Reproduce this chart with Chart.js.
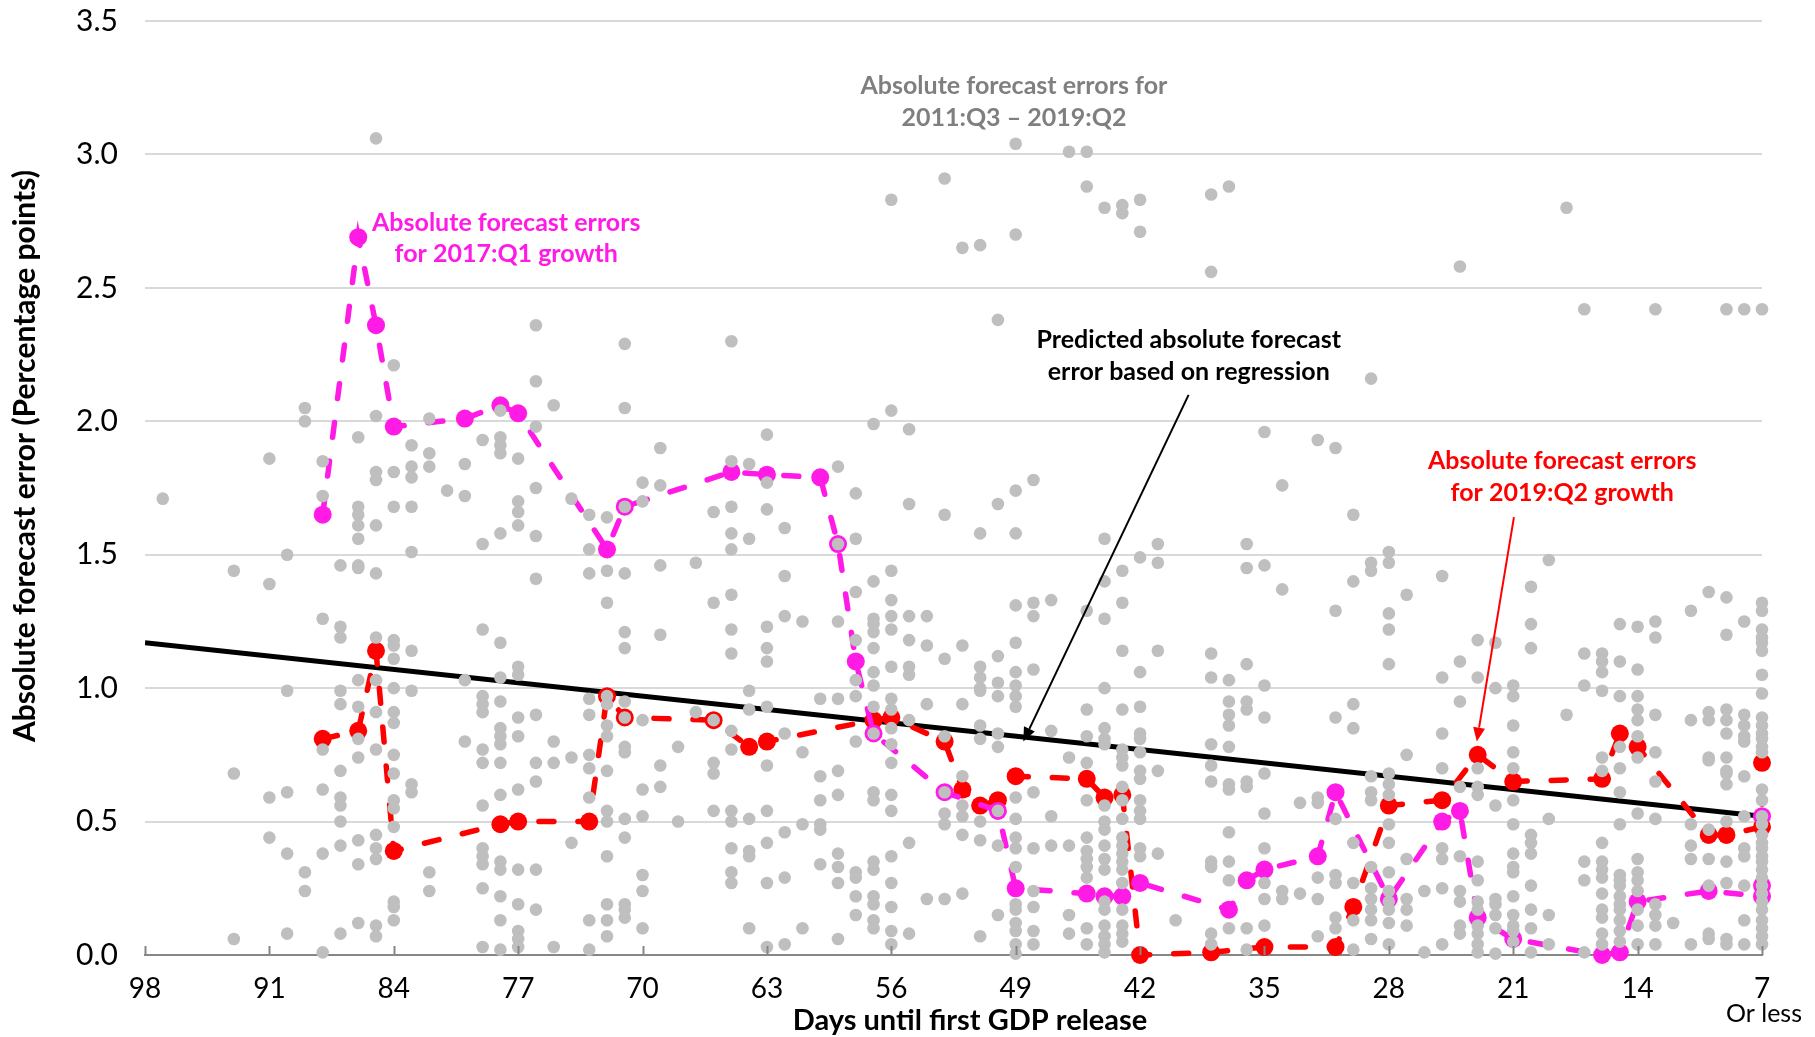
<!DOCTYPE html>
<html>
<head>
<meta charset="utf-8">
<script src="https://cdn.jsdelivr.net/npm/chart.js@4.4.1/dist/chart.umd.min.js"></script>
<style>
  html, body { margin: 0; padding: 0; background: #fff; }
  #wrap { width: 1815px; height: 1037px; position: relative; }
</style>
</head>
<body>
<div id="wrap"><canvas id="errChart"></canvas></div>
<script>
const xTicks = [98, 91, 84, 77, 70, 63, 56, 49, 42, 35, 28, 21, 14, 7];
const yTicks = [0, 0.5, 1, 1.5, 2, 2.5, 3, 3.5];

// absolute forecast errors 2011:Q3 - 2019:Q2, grouped by days until release
const grayByDay = [
  [97, [1.71]],
  [93, [1.44, 0.68, 0.06]],
  [91, [1.86, 1.39, 0.59, 0.44]],
  [90, [1.50, 0.99, 0.61, 0.38, 0.08]],
  [89, [2.05, 2.00, 0.31, 0.24]],
  [88, [1.85, 1.72, 1.26, 0.77, 0.62, 0.38, 0.01]],
  [87, [1.46, 1.23, 1.19, 0.99, 0.94, 0.69, 0.59, 0.56, 0.50, 0.41, 0.08]],
  [86, [1.94, 1.68, 1.65, 1.61, 1.56, 1.46, 1.45, 1.03, 0.93, 0.81, 0.74, 0.43, 0.34, 0.12]],
  [85, [3.06, 2.02, 1.81, 1.78, 1.61, 1.43, 1.19, 1.03, 0.91, 0.77, 0.45, 0.40, 0.36, 0.11, 0.07]],
  [84, [2.21, 1.81, 1.68, 1.18, 1.16, 1.11, 1.00, 0.91, 0.87, 0.75, 0.68, 0.58, 0.55, 0.48, 0.20, 0.18, 0.13]],
  [83, [1.91, 1.83, 1.79, 1.68, 1.51, 1.14, 0.99, 0.64, 0.61]],
  [82, [2.01, 1.88, 1.83, 0.31, 0.24]],
  [81, [1.74]],
  [80, [1.84, 1.72, 1.03, 0.80]],
  [79, [1.93, 1.54, 1.22, 0.97, 0.94, 0.91, 0.77, 0.72, 0.56, 0.40, 0.37, 0.34, 0.25, 0.03]],
  [78, [2.04, 1.94, 1.91, 1.88, 1.58, 1.17, 1.04, 0.95, 0.85, 0.82, 0.79, 0.72, 0.60, 0.35, 0.32, 0.22, 0.13, 0.02]],
  [77, [1.86, 1.70, 1.66, 1.61, 1.08, 1.05, 0.89, 0.82, 0.62, 0.32, 0.19, 0.09, 0.06, 0.03]],
  [76, [2.36, 2.15, 1.98, 1.75, 1.57, 1.41, 0.90, 0.72, 0.65, 0.32, 0.17]],
  [75, [2.06, 0.80, 0.72, 0.03]],
  [74, [1.71, 0.74, 0.42]],
  [73, [1.65, 1.52, 1.43, 0.96, 0.90, 0.75, 0.70, 0.59, 0.13, 0.02]],
  [72, [1.64, 1.44, 1.32, 0.97, 0.94, 0.86, 0.82, 0.69, 0.54, 0.50, 0.37, 0.19, 0.13, 0.07]],
  [71, [2.29, 2.05, 1.68, 1.43, 1.21, 1.15, 0.95, 0.89, 0.78, 0.76, 0.51, 0.44, 0.19, 0.17, 0.14]],
  [70, [1.77, 1.70, 0.88, 0.62, 0.52, 0.30, 0.24, 0.10]],
  [69, [1.90, 1.76, 1.46, 1.20, 0.71, 0.63]],
  [68, [0.78, 0.50]],
  [67, [1.47, 0.91]],
  [66, [1.66, 1.32, 0.88, 0.72, 0.68, 0.54]],
  [65, [2.30, 1.85, 1.68, 1.58, 1.52, 1.35, 1.22, 1.13, 0.84, 0.77, 0.54, 0.50, 0.40, 0.31, 0.27]],
  [64, [1.84, 1.56, 0.99, 0.92, 0.51, 0.39, 0.37, 0.10]],
  [63, [1.95, 1.77, 1.67, 1.23, 1.15, 1.10, 0.93, 0.71, 0.54, 0.42, 0.27, 0.03]],
  [62, [1.60, 1.42, 1.27, 0.83, 0.46, 0.29, 0.04]],
  [61, [1.25, 0.76, 0.49, 0.10]],
  [60, [0.96, 0.67, 0.58, 0.49, 0.47, 0.34]],
  [59, [1.83, 1.54, 1.25, 0.96, 0.69, 0.60, 0.38, 0.33, 0.27, 0.06]],
  [58, [1.73, 1.56, 1.36, 1.18, 1.03, 0.97, 0.80, 0.31, 0.29, 0.22, 0.15]],
  [57, [1.99, 1.40, 1.26, 1.24, 1.21, 1.15, 1.06, 1.01, 0.93, 0.83, 0.61, 0.58, 0.35, 0.32, 0.22, 0.19, 0.13, 0.10]],
  [56, [2.83, 2.04, 1.44, 1.33, 1.27, 1.22, 1.08, 0.96, 0.92, 0.85, 0.79, 0.72, 0.60, 0.54, 0.37, 0.27, 0.18, 0.09, 0.04]],
  [55, [1.97, 1.69, 1.27, 1.18, 1.08, 1.05, 0.88, 0.42, 0.08]],
  [54, [1.27, 1.16, 0.94, 0.21]],
  [53, [2.91, 1.65, 1.11, 0.82, 0.61, 0.53, 0.49, 0.21]],
  [52, [2.65, 1.16, 0.94, 0.67, 0.56, 0.52, 0.45, 0.23]],
  [51, [2.66, 1.58, 1.08, 1.04, 1.00, 0.99, 0.86, 0.81, 0.50, 0.43, 0.07]],
  [50, [2.38, 1.69, 1.12, 1.02, 0.97, 0.83, 0.78, 0.54, 0.41, 0.15]],
  [49, [3.04, 2.70, 1.74, 1.58, 1.31, 1.17, 1.06, 1.01, 0.97, 0.93, 0.59, 0.51, 0.44, 0.40, 0.33, 0.19, 0.17, 0.12, 0.09, 0.04, 0.005]],
  [48, [1.78, 1.32, 1.27, 1.07, 0.61, 0.40, 0.24, 0.18, 0.09, 0.04]],
  [47, [1.33, 0.84, 0.52, 0.41]],
  [46, [3.01, 0.74, 0.41, 0.15, 0.08]],
  [45, [3.01, 2.88, 1.29, 0.92, 0.82, 0.72, 0.58, 0.44, 0.39, 0.36, 0.33, 0.29, 0.10, 0.04]],
  [44, [2.80, 1.56, 1.40, 1.26, 1.00, 0.85, 0.81, 0.79, 0.56, 0.50, 0.47, 0.41, 0.36, 0.32, 0.20, 0.17, 0.11, 0.07, 0.04, 0.01]],
  [43, [2.81, 2.78, 1.44, 1.32, 1.14, 0.92, 0.77, 0.74, 0.71, 0.63, 0.58, 0.51, 0.44, 0.41, 0.38, 0.35, 0.32, 0.27, 0.17, 0.11, 0.08, 0.05]],
  [42, [2.83, 2.71, 1.49, 1.06, 0.93, 0.83, 0.81, 0.76, 0.69, 0.66, 0.58, 0.54, 0.51, 0.40, 0.37]],
  [41, [1.54, 1.47, 1.14, 0.69, 0.38]],
  [40, [0.13]],
  [38, [2.85, 2.56, 1.13, 1.04, 0.79, 0.71, 0.65, 0.35, 0.33, 0.08, 0.04]],
  [37, [2.88, 1.03, 0.95, 0.90, 0.86, 0.78, 0.64, 0.62, 0.46, 0.35, 0.28, 0.10]],
  [36, [1.54, 1.45, 1.09, 0.95, 0.92, 0.65, 0.63, 0.10, 0.02]],
  [35, [1.96, 1.46, 1.01, 0.89, 0.68, 0.53, 0.40, 0.27, 0.21, 0.11]],
  [34, [1.76, 1.37, 0.24, 0.21]],
  [33, [0.57, 0.23]],
  [32, [1.93, 0.59, 0.57, 0.29, 0.21, 0.07]],
  [31, [1.90, 1.29, 0.89, 0.51, 0.30, 0.27, 0.14, 0.10]],
  [30, [1.65, 1.40, 0.94, 0.85, 0.42, 0.27, 0.13, 0.02]],
  [29, [2.16, 1.47, 1.44, 0.67, 0.61, 0.58, 0.33, 0.25, 0.21, 0.17, 0.13, 0.06]],
  [28, [1.51, 1.47, 1.28, 1.22, 1.09, 0.68, 0.64, 0.60, 0.49, 0.42, 0.31, 0.24, 0.20, 0.17, 0.12, 0.04]],
  [27, [1.35, 0.75, 0.36, 0.21, 0.17, 0.11]],
  [26, [0.24, 0.01]],
  [25, [1.42, 1.04, 0.83, 0.70, 0.40, 0.36, 0.25, 0.04]],
  [24, [2.58, 1.10, 0.95, 0.63, 0.37, 0.24, 0.20, 0.11, 0.08]],
  [23, [1.18, 1.04, 0.70, 0.63, 0.60, 0.35, 0.28, 0.20, 0.17, 0.11, 0.08, 0.04, 0.01]],
  [22, [1.17, 1.00, 0.56, 0.21, 0.19, 0.15, 0.10, 0.005]],
  [21, [1.01, 0.97, 0.86, 0.76, 0.70, 0.58, 0.49, 0.38, 0.33, 0.31, 0.22, 0.15, 0.11, 0.09, 0.05]],
  [20, [1.38, 1.24, 1.15, 0.45, 0.42, 0.38, 0.26, 0.17, 0.10, 0.01]],
  [19, [1.48, 0.51, 0.15, 0.04]],
  [18, [2.80, 0.90]],
  [17, [2.42, 1.13, 1.01, 0.35, 0.28, 0.01]],
  [16, [1.13, 1.10, 1.06, 0.99, 0.74, 0.69, 0.42, 0.35, 0.32, 0.29, 0.23, 0.17, 0.14, 0.08, 0.04]],
  [15, [1.24, 1.10, 0.97, 0.78, 0.70, 0.61, 0.49, 0.30, 0.28, 0.26, 0.22, 0.19, 0.17, 0.13, 0.09, 0.05]],
  [14, [1.23, 1.07, 0.97, 0.92, 0.88, 0.82, 0.74, 0.53, 0.36, 0.31, 0.28, 0.24, 0.17, 0.11, 0.04]],
  [13, [2.42, 1.25, 1.19, 0.90, 0.76, 0.65, 0.51, 0.19, 0.15, 0.11, 0.04]],
  [12, [0.12]],
  [11, [1.29, 0.88, 0.49, 0.41, 0.36, 0.04]],
  [10, [1.36, 0.91, 0.88, 0.74, 0.73, 0.47, 0.36, 0.26, 0.08, 0.06]],
  [9, [2.42, 1.34, 1.20, 0.92, 0.88, 0.83, 0.74, 0.69, 0.68, 0.64, 0.50, 0.35, 0.27, 0.06, 0.04]],
  [8, [2.42, 1.25, 0.90, 0.86, 0.82, 0.80, 0.67, 0.52, 0.40, 0.37, 0.26, 0.13, 0.04]],
  [7, [2.42, 1.32, 1.29, 1.22, 1.19, 1.17, 1.14, 1.05, 0.98, 0.89, 0.86, 0.83, 0.81, 0.78, 0.76, 0.62, 0.58, 0.52,
       0.49, 0.45, 0.42, 0.40, 0.37, 0.35, 0.32, 0.29, 0.26, 0.23, 0.20, 0.17, 0.13, 0.10, 0.07, 0.04]]
];

// 2017:Q1 growth
const q1Days = [88, 86, 85, 84, 80, 78, 77, 72, 71, 65, 63, 60, 59, 58, 57, 53, 50, 49, 45, 44, 43, 42,
                37, 36, 35, 32, 31, 28, 25, 24, 23, 21, 16, 15, 14, 10, 7, 7, 7];
const q1Errors = [1.65, 2.69, 2.36, 1.98, 2.01, 2.06, 2.03, 1.52, 1.68, 1.81, 1.80, 1.79, 1.54, 1.10, 0.83, 0.61, 0.54, 0.25, 0.23, 0.22, 0.22, 0.27,
                  0.17, 0.28, 0.32, 0.37, 0.61, 0.21, 0.50, 0.54, 0.14, 0.06, 0.00, 0.01, 0.20, 0.24, 0.22, 0.26, 0.52];

// 2019:Q2 growth
const q2Days = [88, 86, 85, 84, 78, 77, 73, 72, 71, 66, 64, 63, 57, 56, 53, 52, 51, 50, 49, 45, 44, 43, 42,
                38, 35, 31, 30, 28, 25, 23, 21, 16, 15, 14, 10, 9, 7, 7];
const q2Errors = [0.81, 0.84, 1.14, 0.39, 0.49, 0.50, 0.50, 0.97, 0.89, 0.88, 0.78, 0.80, 0.88, 0.89, 0.80, 0.62, 0.56, 0.58, 0.67, 0.66, 0.59, 0.60, 0.00,
                  0.01, 0.03, 0.03, 0.18, 0.56, 0.58, 0.75, 0.65, 0.66, 0.83, 0.78, 0.45, 0.45, 0.48, 0.72];

// regression line end points
const fitDays = [98, 7];
const fitErrors = [1.17, 0.52];

const MAGENTA = '#ff1ae6';
const RED = '#ff0000';
const FONT = 'Lato';

const grayPoints = [];
grayByDay.forEach(([d, vals]) => vals.forEach(v => grayPoints.push({ x: d, y: v })));
const zip = (xs, ys) => xs.map((x, i) => ({ x: x, y: ys[i] }));

function arrow(ctx, x1, y1, x2, y2, color) {
  const ang = Math.atan2(y2 - y1, x2 - x1);
  const hl = 14, hw = 6;
  ctx.save();
  ctx.strokeStyle = color;
  ctx.fillStyle = color;
  ctx.lineWidth = 2;
  ctx.beginPath();
  ctx.moveTo(x1, y1);
  ctx.lineTo(x2 - Math.cos(ang) * hl, y2 - Math.sin(ang) * hl);
  ctx.stroke();
  ctx.beginPath();
  ctx.moveTo(x2, y2);
  ctx.lineTo(x2 - Math.cos(ang) * hl - Math.sin(ang) * hw, y2 - Math.sin(ang) * hl + Math.cos(ang) * hw);
  ctx.lineTo(x2 - Math.cos(ang) * hl + Math.sin(ang) * hw, y2 - Math.sin(ang) * hl - Math.cos(ang) * hw);
  ctx.closePath();
  ctx.fill();
  ctx.restore();
}

const annotate = {
  id: 'annotate',
  afterDraw(chart) {
    const { ctx, chartArea, scales: { x, y } } = chart;
    const text = (lines, day, val, color, size) => {
      ctx.save();
      ctx.font = 'bold ' + size + 'px ' + FONT;
      ctx.fillStyle = color;
      ctx.textAlign = 'center';
      ctx.textBaseline = 'middle';
      lines.forEach((t, i) => ctx.fillText(t, x.getPixelForValue(day), y.getPixelForValue(val[i])));
      ctx.restore();
    };

    // tick marks pointing into the plot
    ctx.save();
    ctx.strokeStyle = '#868686';
    ctx.lineWidth = 2;
    xTicks.forEach(v => {
      const px = Math.round(x.getPixelForValue(v)) + 0.5;
      ctx.beginPath();
      ctx.moveTo(px, chartArea.bottom);
      ctx.lineTo(px, chartArea.bottom - 9);
      ctx.stroke();
    });
    ctx.restore();

    text(['Absolute forecast errors for', '2011:Q3 \u2013 2019:Q2'], 49.1, [3.257, 3.137], '#7f7f7f', 25);
    text(['Absolute forecast errors', 'for 2017:Q1 growth'], 77.67, [2.743, 2.628], MAGENTA, 25);
    text(['Predicted absolute forecast', 'error based on regression'], 39.26, [2.304, 2.186], '#000', 25);
    text(['Absolute forecast errors', 'for 2019:Q2 growth'], 18.24, [1.851, 1.733], RED, 25);

    arrow(ctx, x.getPixelForValue(39.27), y.getPixelForValue(2.099), x.getPixelForValue(48.57), y.getPixelForValue(0.80), '#000');
    arrow(ctx, x.getPixelForValue(20.96), y.getPixelForValue(1.641), x.getPixelForValue(23.05), y.getPixelForValue(0.80), RED);

    // axis titles
    ctx.save();
    ctx.fillStyle = '#000';
    ctx.textAlign = 'center';
    ctx.textBaseline = 'middle';
    ctx.font = 'bold 29px ' + FONT;
    ctx.fillText('Days until first GDP release', 970, 1021);
    ctx.font = '25px ' + FONT;
    ctx.fillText('Or less', x.getPixelForValue(7) + 2, 1014);
    ctx.translate(25, 456);
    ctx.rotate(-Math.PI / 2);
    ctx.font = 'bold 30px ' + FONT;
    ctx.fillText('Absolute forecast error (Percentage points)', 0, 0);
    ctx.restore();
  }
};

new Chart(document.getElementById('errChart'), {
  type: 'scatter',
  data: {
    datasets: [
      {
        label: 'Absolute forecast errors for 2011:Q3 - 2019:Q2',
        data: grayPoints,
        backgroundColor: '#bfbfbf',
        borderWidth: 0,
        pointRadius: 6.3,
        order: 0,
        clip: false
      },
      {
        label: 'Absolute forecast errors for 2017:Q1 growth',
        data: zip(q1Days, q1Errors),
        showLine: true,
        borderColor: MAGENTA,
        backgroundColor: MAGENTA,
        borderWidth: 5.5,
        borderDash: [15, 24],
        borderCapStyle: 'round',
        pointRadius: 9,
        pointBorderWidth: 0,
        order: 1,
        clip: false
      },
      {
        label: 'Absolute forecast errors for 2019:Q2 growth',
        data: zip(q2Days, q2Errors),
        showLine: true,
        borderColor: RED,
        backgroundColor: RED,
        borderWidth: 5.5,
        borderDash: [15, 24],
        borderCapStyle: 'round',
        pointRadius: 9,
        pointBorderWidth: 0,
        order: 2,
        clip: false
      },
      {
        label: 'Predicted absolute forecast error',
        data: zip(fitDays, fitErrors),
        showLine: true,
        borderColor: '#000',
        borderWidth: 5,
        pointRadius: 0,
        order: 3
      }
    ]
  },
  options: {
    responsive: true,
    maintainAspectRatio: false,
    animation: false,
    layout: { padding: { left: 76, right: 53, top: 21, bottom: 0 } },
    plugins: { legend: { display: false }, tooltip: { enabled: false } },
    scales: {
      x: {
        type: 'linear',
        reverse: true,
        min: 7,
        max: 98,
        afterBuildTicks: s => { s.ticks = xTicks.map(v => ({ value: v })); },
        afterFit: s => { s.height = 82; },
        grid: { display: false, drawTicks: false },
        border: { display: true, color: '#868686', width: 2 },
        ticks: { font: { family: FONT, size: 28 }, color: '#000', padding: 17, maxRotation: 0, autoSkip: false }
      },
      y: {
        min: 0,
        max: 3.5,
        afterBuildTicks: s => { s.ticks = yTicks.map(v => ({ value: v })); },
        afterFit: s => { s.width = 69; },
        grid: { color: '#d9d9d9', lineWidth: 2, drawTicks: false },
        border: { display: false },
        ticks: { font: { family: FONT, size: 30 }, color: '#000', padding: 0, crossAlign: 'far', callback: v => v.toFixed(1) }
      }
    }
  },
  plugins: [annotate]
});
</script>
</body>
</html>
